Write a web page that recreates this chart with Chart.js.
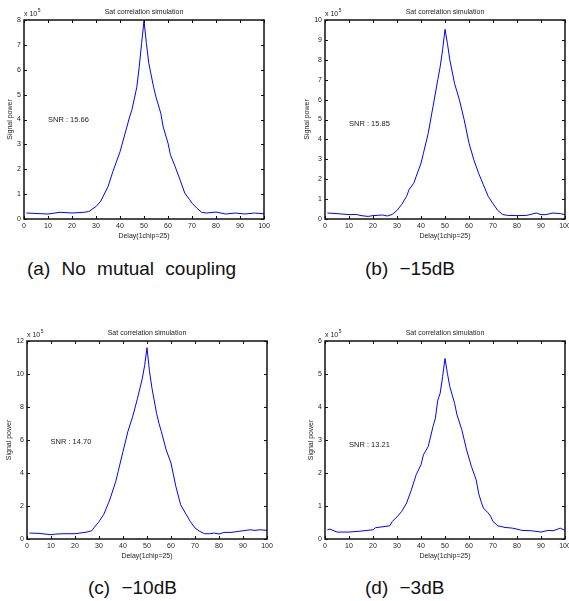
<!DOCTYPE html>
<html>
<head>
<meta charset="utf-8">
<script src="https://cdn.jsdelivr.net/npm/chart.js@4/dist/chart.umd.min.js"></script>
<style>
  body { margin:0; background:#fff; width:569px; height:601px; overflow:hidden; position:relative; }
  canvas { position:absolute; }
  .cap { position:absolute; font-family:"Liberation Sans", Arial, sans-serif; font-size:19px; line-height:1; color:#111; word-spacing:6px; white-space:nowrap; }
</style>
</head>
<body>
<canvas id="cA" width="284" height="250" style="left:0;top:0"></canvas>
<canvas id="cB" width="285" height="250" style="left:284px;top:0"></canvas>
<canvas id="cC" width="284" height="260" style="left:0;top:300px"></canvas>
<canvas id="cD" width="285" height="260" style="left:284px;top:300px"></canvas>
<div class="cap" style="left:27px;top:259px">(a) No mutual coupling</div>
<div class="cap" style="left:365px;top:259px">(b) &minus;15dB</div>
<div class="cap" style="left:88px;top:578px">(c) &minus;10dB</div>
<div class="cap" style="left:365px;top:578px">(d) &minus;3dB</div>
<script>
// --- data (signal power in units of 10^5) ---
const delayA = [1,10,15,20,25,27,30,32,35,37,40,42,44,45,47,48,49,50,51,52,54,55,57,58,60,61,63,65,67,69,70,72,74,76,80,84,88,92,96,100];
const powerA = [0.24,0.2,0.27,0.24,0.27,0.3,0.5,0.72,1.3,1.9,2.7,3.4,4.1,4.4,5.3,6.1,7.06,7.97,7.06,6.26,5.3,4.9,4.25,3.7,3.05,2.58,2.1,1.58,1.04,0.78,0.64,0.44,0.27,0.24,0.28,0.2,0.24,0.2,0.24,0.21];

const delayB = [1,5,10,13,15,18,20,24,26,28,30,32,34,35,37,38,40,41,43,45,47,48,49,50,51,52,54,56,58,60,62,64,66,68,70,72,74,76,80,84,88,90,92,95,98,100];
const powerB = [0.3,0.27,0.22,0.23,0.17,0.13,0.17,0.2,0.15,0.23,0.43,0.74,1.14,1.47,1.8,2.14,2.8,3.3,4.3,5.65,7.0,7.66,8.5,9.53,8.83,8.0,6.8,5.99,4.98,3.81,2.98,2.3,1.72,1.14,0.77,0.43,0.23,0.18,0.17,0.18,0.3,0.22,0.22,0.3,0.27,0.22];

const delayC = [1,5,10,12,15,20,25,27,28,30,32,34,35,37,38,40,42,44,46,48,49,50,51,52,54,55,56,58,60,62,64,66,68,70,72,74,76,78,80,82,85,88,90,93,95,97,100];
const powerC = [0.36,0.34,0.26,0.3,0.32,0.32,0.42,0.5,0.7,1.05,1.5,2.2,2.6,3.5,4.1,5.3,6.5,7.4,8.5,9.7,10.5,11.6,10.2,9.2,7.6,7.0,6.5,5.4,4.6,3.2,2.08,1.57,1.07,0.67,0.46,0.32,0.32,0.36,0.3,0.4,0.4,0.46,0.5,0.56,0.52,0.56,0.52];

const delayD = [1,2,5,10,15,20,21,25,27,28,30,32,34,36,38,40,41,43,45,46,47,48,49,50,51,52,54,55,57,59,61,63,64,65,66,68,69,70,72,75,78,80,82,86,90,93,95,97,98,100];
const powerD = [0.28,0.3,0.21,0.21,0.24,0.28,0.34,0.38,0.4,0.53,0.67,0.84,1.09,1.49,1.95,2.25,2.55,2.8,3.41,3.66,4.21,4.42,4.92,5.47,5.02,4.62,4.11,3.76,3.31,2.7,2.2,1.79,1.39,1.14,0.94,0.79,0.69,0.53,0.4,0.35,0.33,0.3,0.26,0.25,0.21,0.26,0.25,0.3,0.33,0.26];

const yMax  = [8, 10, 12, 6];
const yStep = [1, 1, 2, 1];
const snrText = ['SNR : 15.66', 'SNR : 15.85', 'SNR : 14.70', 'SNR : 13.21'];
const snrX = [10, 10, 9.8, 10];
const snrY = [4.0, 4.8, 5.9, 2.85];

const titleText = 'Sat correlation simulation';
const xTitle = 'Delay(1chip=25)';
const yTitle = 'Signal power';

// --- layout of each panel (plot box inside its canvas) ---
const panels = [
  { id:'cA', x:delayA, y:powerA, area:{l:24, t:20, r:264, b:219}, ylabX:10 },
  { id:'cB', x:delayB, y:powerB, area:{l:41, t:20, r:281, b:219}, ylabX:23 },
  { id:'cC', x:delayC, y:powerC, area:{l:27, t:41, r:267, b:239}, ylabX:9 },
  { id:'cD', x:delayD, y:powerD, area:{l:41, t:41, r:281, b:239}, ylabX:27 },
];

const FONT = '"Liberation Sans", Arial, sans-serif';

// matlab style box, inward ticks and the texts
const matlabFrame = {
  id: 'matlabFrame',
  afterDraw(chart, args, opts){
    const c = chart.ctx, a = chart.chartArea;
    const xs = chart.scales.x, ys = chart.scales.y;
    c.save();
    c.strokeStyle = '#111';
    c.lineWidth = 1;
    xs.ticks.forEach(t => {
      const px = Math.round(xs.getPixelForValue(t.value)) + 0.5;
      c.beginPath();
      c.moveTo(px, a.bottom); c.lineTo(px, a.bottom - 3);
      c.moveTo(px, a.top); c.lineTo(px, a.top + 3);
      c.stroke();
    });
    ys.ticks.forEach(t => {
      const py = Math.round(ys.getPixelForValue(t.value)) + 0.5;
      c.beginPath();
      c.moveTo(a.left, py); c.lineTo(a.left + 3, py);
      c.moveTo(a.right, py); c.lineTo(a.right - 3, py);
      c.stroke();
    });
    c.lineWidth = 1.5;
    c.strokeRect(a.left, a.top, a.right - a.left, a.bottom - a.top);

    c.fillStyle = '#222';
    c.font = '7px ' + FONT;
    c.textAlign = 'center';
    c.textBaseline = 'middle';
    const cx = (a.left + a.right) / 2;
    c.fillText(titleText, cx, a.top - 8);
    c.fillText(xTitle, cx, a.bottom + 17);

    // exponent label
    c.textAlign = 'left';
    c.fillText('x 10', a.left, a.top - 6);
    const w = c.measureText('x 10').width;
    c.font = '5px ' + FONT;
    c.fillText('5', a.left + w + 0.5, a.top - 9);

    // snr text at data coordinates
    c.font = '7.5px ' + FONT;
    c.fillText(opts.snr, xs.getPixelForValue(opts.snrX), ys.getPixelForValue(opts.snrY));

    // y title
    c.font = '7px ' + FONT;
    c.translate(opts.ylabX, (a.top + a.bottom) / 2);
    c.rotate(-Math.PI / 2);
    c.textAlign = 'center';
    c.fillText(yTitle, 0, 0);
    c.restore();
  }
};

panels.forEach((p, i) => {
  const cv = document.getElementById(p.id);
  const W = cv.width, H = cv.height, ar = p.area;
  const pts = p.x.map((d, k) => ({ x: d, y: p.y[k] }));
  new Chart(cv, {
    type: 'scatter',
    data: { datasets: [{ data: pts, showLine: true, borderColor: '#0000ff', borderWidth: 1, pointRadius: 0, tension: 0, fill: false }] },
    options: {
      responsive: false,
      animation: false,
      layout: { padding: { left: 0, top: ar.t, right: W - ar.r, bottom: 0 } },
      plugins: {
        legend: { display: false },
        tooltip: { enabled: false },
        matlabFrame: { snr: snrText[i], snrX: snrX[i], snrY: snrY[i], ylabX: p.ylabX }
      },
      scales: {
        x: {
          type: 'linear', min: 0, max: 100,
          grid: { display: false, drawTicks: false },
          border: { display: false },
          ticks: { stepSize: 10, autoSkip: false, maxRotation: 0, padding: 3, color: '#222', font: { size: 7, family: FONT } },
          afterFit(s){ s.height = H - ar.b; s.paddingLeft = 0; s.paddingRight = 0; }
        },
        y: {
          type: 'linear', min: 0, max: yMax[i],
          grid: { display: false, drawTicks: false },
          border: { display: false },
          ticks: { stepSize: yStep[i], autoSkip: false, padding: 3, color: '#222', font: { size: 7, family: FONT } },
          afterFit(s){ s.width = ar.l; s.paddingTop = 0; s.paddingBottom = 0; }
        }
      }
    },
    plugins: [matlabFrame]
  });
});
</script>
</body>
</html>
